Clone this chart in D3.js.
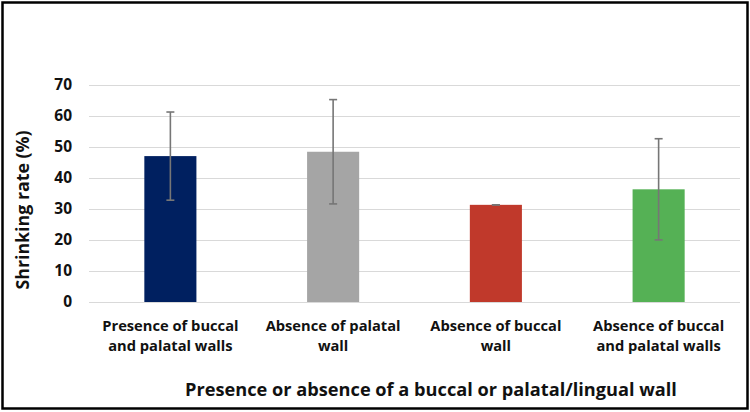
<!DOCTYPE html>
<html>
<head>
<meta charset="utf-8">
<script src="https://cdn.jsdelivr.net/npm/d3@7"></script>
<style>
  html, body { margin: 0; padding: 0; background: #fff; }
  svg { display: block; }
  text { font-family: "Open Sans", sans-serif; font-weight: bold; fill: #111; }
</style>
</head>
<body>
<svg id="chart" width="750" height="412"></svg>
<script>
const categories = [
  ["Presence of buccal", "and palatal walls"],
  ["Absence of palatal", "wall"],
  ["Absence of buccal", "wall"],
  ["Absence of buccal", "and palatal walls"]
];
const values = [47.0, 48.4, 31.3, 36.3];
const errors = [14.2, 16.8, 0, 16.3];
const colors = ["#002060", "#A5A5A5", "#C0392B", "#55B155"];
const yTicks = [0, 10, 20, 30, 40, 50, 60, 70];
const yTitle = "Shrinking rate (%)";
const xTitle = "Presence or absence of a buccal or palatal/lingual wall";

const svg = d3.select("#chart");
const W = 750, H = 412;
const plotL = 89, plotR = 740, plotT = 84.7, plotB = 302;

svg.append("rect").attr("x", 0).attr("y", 0).attr("width", W).attr("height", H).attr("fill", "#fff");
svg.append("rect").attr("x", 2.5).attr("y", 2.5).attr("width", 745).attr("height", 406)
  .attr("fill", "none").attr("stroke", "#000").attr("stroke-width", 2.5);

const idx = categories.map((d, i) => i);
const x = d3.scaleBand().domain(idx).range([plotL, plotR]).paddingInner(0.68).paddingOuter(0.34);
const y = d3.scaleLinear().domain([0, 70]).range([plotB, plotT]);

// gridlines
svg.append("g").selectAll("line").data(yTicks).join("line")
  .attr("x1", plotL).attr("x2", plotR)
  .attr("y1", d => Math.round(y(d)) + 0.5).attr("y2", d => Math.round(y(d)) + 0.5)
  .attr("stroke", "#D9D9D9").attr("stroke-width", 1);

// y axis labels
const yAxis = d3.axisLeft(y).tickValues(yTicks).tickSize(0).tickPadding(0);
const gy = svg.append("g").attr("transform", `translate(${72},0)`).call(yAxis);
gy.select(".domain").remove();
gy.selectAll("text").style("font-size", "15.5px").style("font-family", "'Open Sans', sans-serif")
  .style("font-weight", "bold").attr("fill", "#111");

// bars
svg.append("g").selectAll("rect").data(values).join("rect")
  .attr("x", (d, i) => x(i)).attr("width", x.bandwidth())
  .attr("y", d => y(d)).attr("height", d => plotB - y(d))
  .attr("fill", (d, i) => colors[i]);

// error bars
const eb = svg.append("g").attr("stroke", "#767676").attr("stroke-width", 1.6);
values.forEach((v, i) => {
  const cx = x(i) + x.bandwidth() / 2;
  const top = y(v + errors[i]), bot = y(v - errors[i]);
  const g = eb.append("g");
  g.append("line").attr("x1", cx).attr("x2", cx).attr("y1", top).attr("y2", bot);
  g.append("line").attr("x1", cx - 4).attr("x2", cx + 4).attr("y1", top).attr("y2", top);
  g.append("line").attr("x1", cx - 4).attr("x2", cx + 4).attr("y1", bot).attr("y2", bot);
});

// category labels
const cat = svg.append("g");
categories.forEach((lines, i) => {
  const cx = x(i) + x.bandwidth() / 2;
  const t = cat.append("text").attr("text-anchor", "middle").style("font-size", "14.7px");
  lines.forEach((ln, j) => {
    t.append("tspan").attr("x", cx).attr("y", 331 + j * 19.5).text(ln);
  });
});

// axis titles
svg.append("text").attr("x", 431).attr("y", 396).attr("text-anchor", "middle")
  .style("font-size", "18.2px").text(xTitle);
svg.append("text").attr("transform", `translate(28.5,210) rotate(-90)`).attr("text-anchor", "middle")
  .style("font-size", "17.8px").text(yTitle);
</script>
</body>
</html>
